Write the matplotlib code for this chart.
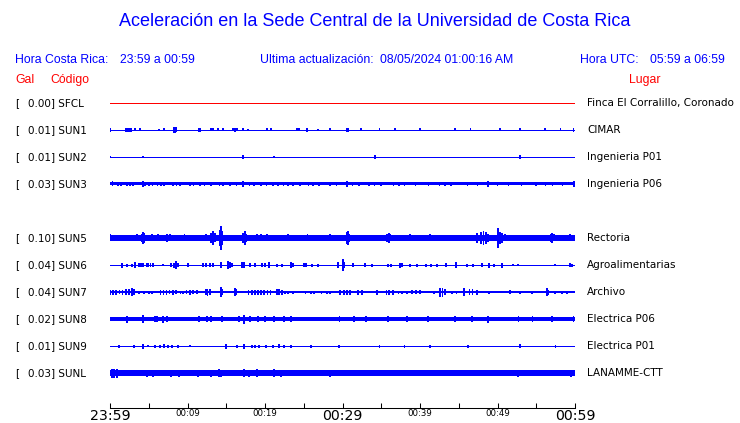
import matplotlib
matplotlib.use("Agg")
import matplotlib.pyplot as plt

# ---------------- data ----------------
title = "Aceleración en la Sede Central de la Universidad de Costa Rica"
hora_cr_label, hora_cr = "Hora Costa Rica:", "23:59 a 00:59"
act_label, act_value = "Ultima actualización:", "08/05/2024 01:00:16 AM"
hora_utc_label, hora_utc = "Hora UTC:", "05:59 a 06:59"

codes = ["SFCL", "SUN1", "SUN2", "SUN3", "SUN5", "SUN6", "SUN7", "SUN8", "SUN9", "SUNL"]
gal = [0.00, 0.01, 0.01, 0.03, 0.10, 0.04, 0.04, 0.02, 0.01, 0.03]
places = ["Finca El Corralillo, Coronado", "CIMAR", "Ingenieria P01", "Ingenieria P06",
          "Rectoria", "Agroalimentarias", "Archivo", "Electrica P06", "Electrica P01",
          "LANAMME-CTT"]
rows = [0, 1, 2, 3, 5, 6, 7, 8, 9, 10]          # slot 4 (SUN4) is empty
base_amp = [0.4, 0.5, 0.5, 1.5, 2.6, 0.5, 0.7, 2.0, 0.5, 2.8]   # background noise level

# burst events: (minutes after 23:59, half amplitude)
ev_sfcl = []
ev_sun1 = [(0.0, 2), (2.06, 2), (2.19, 2), (2.32, 2), (2.45, 2), (2.71, 2), (3.23, 1.5),
           (3.87, 1.5), (6.32, 1), (6.97, 1.5), (8.26, 3), (8.39, 3), (8.52, 2.5),
           (11.48, 2), (11.61, 2), (13.03, 1.5), (13.29, 1.5), (13.94, 1.5), (14.58, 1.5),
           (15.87, 1.5), (16.13, 2), (16.39, 1.5), (17.16, 1.5), (17.81, 1), (20.26, 1.5),
           (20.77, 1.5), (24.13, 1.5), (24.39, 1.5), (25.42, 2), (26.84, 1), (28.39, 1.5),
           (30.58, 2), (30.71, 2), (32.4, 1.5), (34.8, 1.5), (36.8, 1.5), (40.0, 1.5),
           (44.5, 1.5), (46.5, 1.5), (50.3, 1.5), (52.9, 1.5), (56.1, 1.5), (58.1, 1.5),
           (59.8, 2)]
ev_sun2 = [(0.0, 1), (4.26, 1), (17.16, 2), (21.16, 1), (34.2, 2), (52.9, 2)]
ev_sun3 = [(0.3, 2.5), (1.0, 2), (1.4, 2), (2.2, 2), (2.6, 2), (3.0, 2), (4.26, 3), (4.5, 2),
           (5.0, 2), (5.5, 2), (6.1, 2), (6.6, 2), (7.0, 2), (8.1, 2), (8.6, 2), (9.0, 2),
           (10.3, 2), (10.8, 2), (11.6, 2), (12.2, 2), (13.0, 2), (14.1, 2), (14.6, 2),
           (15.5, 2), (16.3, 2), (17.16, 3), (18.0, 2), (18.6, 2), (19.5, 2), (20.2, 2),
           (21.0, 2), (21.7, 2), (22.4, 2), (23.0, 2), (23.6, 2), (24.5, 2), (25.6, 2),
           (26.2, 2), (27.0, 2), (28.4, 2), (29.2, 2), (30.58, 3), (31.3, 2), (32.1, 2),
           (33.4, 2), (34.1, 2), (35.0, 2), (36.6, 2), (37.3, 2), (38.0, 2), (39.4, 2),
           (41.1, 2), (42.5, 2), (43.2, 2), (44.0, 2), (46.1, 2), (47.4, 2), (48.77, 3),
           (50.0, 2), (51.4, 2), (53.1, 2), (55.0, 2), (56.2, 2), (57.1, 2), (58.4, 2),
           (59.9, 3)]
ev_sun5 = [(0.0, 3.5), (3.5, 3.5), (4.1, 4), (4.26, 6), (4.39, 5), (5.4, 3.5), (6.2, 3.5),
           (7.35, 4), (7.74, 3.5), (9.6, 3.5), (12.4, 3.5), (13.03, 5), (13.29, 7),
           (13.55, 4.5), (14.2, 8), (14.32, 12), (14.45, 7), (17.16, 5), (17.42, 7),
           (17.6, 4), (18.97, 3.5), (19.5, 3.5), (20.26, 3.5), (23.0, 3.5), (25.5, 3.5),
           (28.39, 3.5), (30.58, 6), (30.71, 7), (30.85, 4), (35.74, 4), (36.0, 5),
           (36.2, 3.5), (38.71, 3.5), (41.29, 3.5), (47.35, 5), (47.9, 6), (48.2, 7),
           (48.5, 6), (48.77, 4), (50.06, 10), (50.32, 6), (50.58, 5), (51.0, 3.5),
           (56.9, 4), (57.03, 5), (57.3, 3.5), (59.35, 3.5)]
ev_sun6 = [(1.55, 2.5), (2.19, 1.5), (2.84, 1.5), (3.23, 3), (3.74, 2), (4.0, 2), (4.26, 2),
           (4.77, 2), (4.9, 2), (5.2, 2), (5.55, 2), (6.84, 1), (7.87, 2), (8.26, 2.5),
           (8.52, 4), (8.77, 2), (10.06, 2), (12.0, 2), (12.4, 2), (12.9, 2), (13.29, 2),
           (14.32, 3), (15.23, 4), (15.5, 3), (15.74, 2), (17.03, 3), (17.29, 3), (18.06, 2),
           (18.71, 2), (19.61, 2), (20.0, 2), (20.52, 3), (21.55, 1.5), (22.19, 1.5),
           (23.35, 3), (23.61, 2), (25.03, 2), (25.29, 2), (26.06, 1.5), (26.84, 1.5),
           (29.42, 3), (30.06, 6), (30.2, 3), (31.35, 2), (32.9, 2), (33.81, 1.5),
           (35.87, 1.5), (36.26, 1.5), (37.42, 2.5), (37.68, 2), (38.71, 1.5), (39.61, 1.5),
           (40.77, 1.5), (41.42, 1.5), (42.19, 1.5), (43.35, 2), (44.65, 3), (46.06, 1.5),
           (46.84, 1.5), (48.0, 2), (48.9, 2.5), (49.55, 1.5), (50.58, 2.5), (52.0, 1),
           (52.65, 1), (57.42, 1), (59.35, 2), (59.6, 1.5)]
ev_sun7 = [(0.0, 2.5), (0.4, 2.5), (0.8, 2.5), (1.2, 2), (1.6, 2.5), (2.06, 3), (2.45, 3),
           (2.84, 4), (3.1, 3), (3.74, 1.5), (4.4, 1.5), (5.0, 1.5), (5.4, 1.5), (6.5, 2.5),
           (6.9, 2.5), (7.3, 2.5), (7.7, 2), (8.1, 2.5), (8.5, 2), (9.1, 1.5), (9.4, 1.5),
           (9.9, 2), (10.3, 2.5), (10.7, 2), (11.2, 2), (12.39, 3), (12.6, 3.5), (12.9, 3),
           (14.32, 5), (14.5, 3), (16.13, 4), (16.3, 3), (17.9, 2.5), (18.3, 2.5),
           (18.7, 2.5), (19.1, 2.5), (19.5, 2.5), (19.9, 2.5), (20.3, 2.5), (20.7, 2.5),
           (21.55, 3), (21.8, 3), (22.19, 2.5), (22.6, 1.5), (23.0, 1.5), (23.6, 1.5),
           (25.2, 1.5), (25.9, 1.5), (26.3, 1.5), (27.3, 1.5), (28.0, 1.5), (28.4, 1.5),
           (29.7, 2.5), (30.2, 2.5), (30.6, 2.5), (31.0, 2.5), (32.0, 2.5), (32.5, 2.5),
           (34.45, 2.5), (35.7, 2.5), (36.0, 2.5), (36.5, 2.5), (37.2, 1.5), (37.7, 1.5),
           (38.3, 1.5), (39.0, 2), (39.5, 2), (40.0, 2), (41.8, 1.5), (42.6, 4.5),
           (42.9, 4.5), (43.2, 3), (44.1, 1.5), (44.7, 1.5), (45.7, 4), (46.4, 3), (46.8, 3),
           (47.35, 2.5), (48.9, 1.5), (51.6, 2), (52.9, 1.5), (54.45, 1.5), (56.4, 4),
           (56.6, 2.5), (57.4, 1.5), (58.3, 1.5), (58.97, 1.5)]
ev_sun8 = [(2.19, 3.5), (4.26, 4), (5.81, 3), (6.06, 3), (6.84, 3.5), (7.35, 3), (11.48, 3),
           (12.52, 3), (13.03, 3), (14.45, 3), (16.65, 3), (17.29, 4.5), (18.06, 3),
           (19.1, 3), (20.0, 3), (21.16, 3), (22.45, 3), (23.35, 3), (29.6, 3), (31.5, 3),
           (33.0, 3), (35.9, 3), (38.3, 3), (41.0, 3), (44.5, 3), (46.7, 3), (48.77, 3.5),
           (52.7, 3), (54.5, 3), (57.0, 3), (59.8, 3)]
ev_sun9 = [(1.16, 1.5), (3.1, 1.5), (4.26, 2.5), (4.9, 1), (5.81, 1.5), (6.45, 1.5),
           (6.97, 2), (7.48, 1.5), (8.0, 1.5), (8.77, 1.5), (10.32, 1), (14.97, 2.5),
           (16.39, 1.5), (17.29, 2.5), (18.32, 1.5), (18.71, 1.5), (19.23, 1.5), (20.13, 1.5),
           (21.03, 1.5), (21.81, 2), (22.45, 1.5), (23.35, 1.5), (25.94, 1.5), (29.55, 1.5),
           (34.8, 1.5), (38.0, 1.5), (41.3, 1.5), (46.2, 1.5), (52.9, 2), (57.5, 1.5)]
ev_sunl = [(0.26, 4.5), (0.5, 4.5), (0.9, 4.5), (4.77, 3.5), (5.55, 3.5), (7.87, 3.5),
           (8.9, 3.5), (11.35, 3.5), (13.03, 3.5), (14.06, 4), (14.3, 3.5), (17.29, 4),
           (17.94, 3.5), (18.97, 4), (21.16, 4), (22.06, 3.5), (28.39, 3.5), (52.65, 3.5),
           (59.5, 3.5)]
events = [ev_sfcl, ev_sun1, ev_sun2, ev_sun3, ev_sun5, ev_sun6, ev_sun7, ev_sun8, ev_sun9, ev_sunl]

tick_minutes = list(range(0, 61, 5))
tick_text = {0: "23:59", 10: "00:09", 20: "00:19", 30: "00:29", 40: "00:39",
             50: "00:49", 60: "00:59"}
major_text = ["23:59", "00:29", "00:59"]

# ---------------- style ----------------
BLUE = "#0000FF"
RED = "#FF0000"
trace_colors = [RED] + [BLUE] * 9
W, H = 740, 423
SCALE = 1 / 27.0   # amplitude units -> row spacing
HEAD_FONT = "Liberation Sans"
LAB_FONT = "DejaVu Sans"
HS = 8.8

fig = plt.figure(figsize=(W / 100, H / 100), dpi=100)
ax = fig.add_axes([110 / W, 1 - 386.5 / H, 465 / W, 297 / H])
ax.set_xlim(0, 60)
ax.set_ylim(10.5, -0.5)

for r, b, ev, c in zip(rows, base_amp, events, trace_colors):
    if b <= 0.5:
        ax.hlines(r, 0, 60, color=c, lw=0.72, antialiased=False, snap=True)
    else:
        ax.fill_between([0, 60], r - b * SCALE, r + b * SCALE, color=c, lw=0,
                        antialiased=False)
    if ev:
        ms = [e[0] for e in ev]
        amps = [e[1] for e in ev]
        ax.bar(ms, [2 * a * SCALE for a in amps], bottom=[r - a * SCALE for a in amps],
               width=0.2, color=c, linewidth=0, antialiased=False)

# time axis
for s in ["top", "left", "right"]:
    ax.spines[s].set_visible(False)
ax.spines["bottom"].set_position(("outward", 21.5 * 0.72))
ax.spines["bottom"].set_linewidth(0.75)
ax.set_yticks([])
ax.set_xticks(tick_minutes)
ax.set_xticklabels([tick_text.get(m, "") for m in tick_minutes], family=LAB_FONT)
ax.tick_params(axis="x", direction="in", length=3.8, width=0.75, pad=1.0, colors="black")
for lbl in ax.get_xticklabels():
    lbl.set_fontsize(10.2 if lbl.get_text() in major_text else 6.2)

def px(x, y):
    return x / W, 1 - y / H

# header
fig.text(*px(375, 22), title, color=BLUE, fontsize=13, family=HEAD_FONT,
         ha="center", va="center")
fig.text(*px(15, 60), hora_cr_label, color=BLUE, fontsize=HS, family=HEAD_FONT, va="center")
fig.text(*px(120, 60), hora_cr, color=BLUE, fontsize=HS, family=HEAD_FONT, va="center")
fig.text(*px(260, 60), act_label, color=BLUE, fontsize=HS, family=HEAD_FONT, va="center")
fig.text(*px(380, 60), act_value, color=BLUE, fontsize=HS, family=HEAD_FONT, va="center")
fig.text(*px(580, 60), hora_utc_label, color=BLUE, fontsize=HS, family=HEAD_FONT,
         va="center")
fig.text(*px(725, 60), hora_utc, color=BLUE, fontsize=HS, family=HEAD_FONT, va="center",
         ha="right")
fig.text(*px(15, 80), "Gal", color=RED, fontsize=HS, family=HEAD_FONT, va="center")
fig.text(*px(50, 80), "Código", color=RED, fontsize=HS, family=HEAD_FONT, va="center")
fig.text(*px(660, 80), "Lugar", color=RED, fontsize=HS, family=HEAD_FONT, va="center",
         ha="right")

# row labels
for r, g, code, place in zip(rows, gal, codes, places):
    y = ax.transData.transform((0, r))[1]
    yf = fig.transFigure.inverted().transform((0, y))[1]
    fig.text(15 / W, yf, "[", fontsize=7.5, family=LAB_FONT, va="center", color="black")
    fig.text(28 / W, yf, f"{g:.2f}] {code}", fontsize=7.5, family=LAB_FONT,
             va="center", color="black")
    fig.text(587 / W, yf, place, fontsize=7.5, family=LAB_FONT, va="center", color="black")

fig.savefig("out.png", dpi=100)
